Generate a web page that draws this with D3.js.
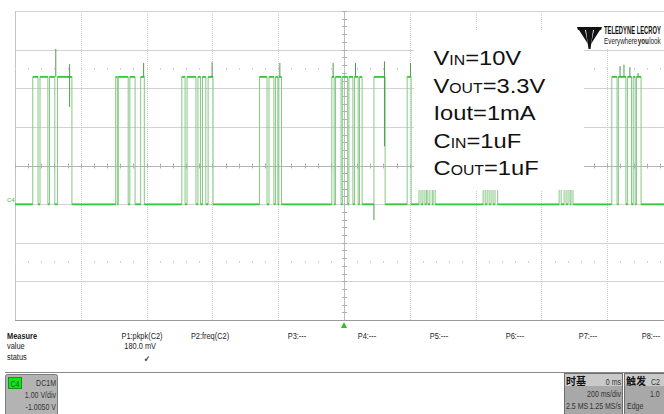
<!DOCTYPE html>
<html><head><meta charset="utf-8">
<script src="https://cdn.jsdelivr.net/npm/d3@7"></script>
<style>
html,body{margin:0;padding:0;background:#fff;}
svg{display:block;font-family:"Liberation Sans",Arial,sans-serif;}
</style></head>
<body>
<svg id="c" width="664" height="414"></svg>
<script>
// ---------- data ----------
const timeDomainMs = [-1000, 1000];          // 10 div x 200 ms/div
const voltDomain = [-2.995, 5.005];          // 8 div x 1 V/div, offset -1.005 V
const lowLevel = 0;
const highLevel = 3.3;
// pulse rising / falling times (ms)
const riseMs = [-946,-924,-895,-871, -694,-686,-651,-618, -493,-477,-444,-430,-413,
  -257,-228,-208,-198, -37,-26,-5,15,32,47,91,192, 228,240,251,261,271,
  423,435,447,459, 654,669,681,690, 814,834,862,879,889];
const fallMs = [-930,-900,-879,-827, -689,-656,-635,-607, -483,-450,-436,-420,-398,
  -234,-213,-201,-190, -30,-9,11,27,43,55,125,204, 234,246,255,268,277,
  429,441,453,467, 660,675,687,696, 830,857,874,885,903];
// glitches / ringing spikes
const spikeMs     = [-876,-834,-609,-401,-195,-33, 35,123,202,839,851,869,894, 91];
const spikeTop    = [4.02,3.63,3.66,3.68,3.66,3.66,3.66,3.70,3.66,3.58,3.62,3.55,3.40, 0];
const spikeBottom = [3.3, 2.52,3.3, 3.3, 3.3, 3.3, 3.3, 1.50,3.3, 3.3, 3.3, 3.3, 3.3, -0.41];

const annotationLines = [
  {big:"V", small:"IN", rest:"=10V"},
  {big:"V", small:"OUT", rest:"=3.3V"},
  {big:"Iout=1mA", small:"", rest:""},
  {big:"C", small:"IN", rest:"=1uF"},
  {big:"C", small:"OUT", rest:"=1uF"}
];
const logoLines = ["TELEDYNE LECROY"];
const sloganParts = ["Everywhere","you","look"];
const measureNames = ["P1:pkpk(C2)","P2:freq(C2)","P3:---","P4:---","P5:---","P6:---","P7:---","P8:---"];
const measureValues = ["180.0 mV","","","","","","",""];
const measureStatus = ["\u2714","","","","","","",""];
const channelInfo = ["DC1M","1.00 V/div","-1.0050 V"];
const timebaseInfo = ["\u65f6\u57fa","0 ms","200 ms/div","2.5 MS","1.25 MS/s"];
const triggerInfo = ["\u89e6\u53d1","C2","1.0","Edge"];

// ---------- layout ----------
const svg = d3.select("#c");
const L = 15, R = 673, T = 11, B = 320;
const x = d3.scaleLinear().domain(timeDomainMs).range([L, R]);
const y = d3.scaleLinear().domain(voltDomain).range([B, T]);
const vCenter = (voltDomain[0] + voltDomain[1]) / 2;

const grid = svg.append("g");
d3.range(0, 9).forEach(i => {
  const v = voltDomain[0] + i;
  grid.append("line").attr("x1", L).attr("x2", 664).attr("y1", Math.round(y(v)) + 0.5).attr("y2", Math.round(y(v)) + 0.5)
    .attr("stroke", i === 4 ? "#b4b4b4" : "#d2d2d2").attr("stroke-width", 1);
});
d3.range(0, 11).forEach(i => {
  const t = timeDomainMs[0] + i * 200;
  const xx = Math.round(x(t)) + 0.5;
  grid.append("line").attr("x1", xx).attr("x2", xx).attr("y1", T).attr("y2", B)
    .attr("stroke", i === 0 ? "#c4c4c4" : (i === 5 ? "#bcbcbc" : "#cfcfcf"))
    .attr("stroke-dasharray", (i === 0 || i === 5) ? null : "1,1");
});
d3.range(timeDomainMs[0], timeDomainMs[1] + 1, 40).forEach(t => {
  const xx = Math.round(x(t)) + 0.5;
  grid.append("line").attr("x1", xx).attr("x2", xx).attr("y1", y(vCenter) - 2).attr("y2", y(vCenter) + 3).attr("stroke", "#b0b0b0");
  [vCenter + 2.5, vCenter - 2.5].forEach(v => {
    grid.append("rect").attr("x", xx - 0.5).attr("y", y(v) - 1).attr("width", 1).attr("height", 2).attr("fill", "#d0d0d0");
  });
});
d3.range(voltDomain[0], voltDomain[1] + 0.01, 0.2).forEach(v => {
  const yy = Math.round(y(v)) + 0.5;
  grid.append("line").attr("x1", x(0) - 2).attr("x2", x(0) + 3).attr("y1", yy).attr("y2", yy).attr("stroke", "#b0b0b0");
});

// ---------- trace ----------
const pts = [[timeDomainMs[0], lowLevel]];
riseMs.forEach((r, i) => {
  pts.push([r, lowLevel], [r, highLevel], [fallMs[i], highLevel], [fallMs[i], lowLevel]);
});
pts.push([timeDomainMs[1], lowLevel]);
const line = d3.line().x(d => x(d[0])).y(d => y(d[1]));
svg.append("path").attr("d", line(pts)).attr("fill", "none").attr("stroke", "#86c886").attr("stroke-width", 1);
const flats = [];
for (let i = 0; i < pts.length - 1; i++) {
  if (pts[i][1] === pts[i + 1][1]) flats.push([pts[i], pts[i + 1]]);
}
svg.append("g").selectAll("line").data(flats).join("line")
  .attr("x1", d => x(d[0][0])).attr("x2", d => x(d[1][0]))
  .attr("y1", d => y(d[0][1])).attr("y2", d => y(d[1][1]))
  .attr("stroke", "#36c936").attr("stroke-width", 1.8);
svg.append("g").selectAll("line").data(spikeMs).join("line")
  .attr("x1", d => x(d)).attr("x2", d => x(d))
  .attr("y1", (d, i) => y(spikeTop[i])).attr("y2", (d, i) => y(spikeBottom[i]))
  .attr("stroke", "#4f9a4f").attr("stroke-width", 1);

svg.append("text").attr("x", 7).attr("y", y(lowLevel) - 2).text("C4")
  .attr("font-size", 6).attr("fill", "#3bbb3b");

// ---------- annotation box ----------
svg.append("rect").attr("x", 414).attr("y", 30).attr("width", 170).attr("height", 160).attr("fill", "#fff");
const ann = svg.append("g").attr("fill", "#111");
annotationLines.forEach((l, i) => {
  const t = ann.append("text").attr("transform", `translate(433.5,${65 + i * 27.5}) scale(1.13,1)`).attr("font-size", 21);
  t.append("tspan").text(l.big);
  if (l.small) t.append("tspan").attr("font-size", 14).text(l.small);
  if (l.rest) t.append("tspan").text(l.rest);
});

// ---------- logo ----------
svg.append("rect").attr("x", 575).attr("y", 12).attr("width", 89).attr("height", 36).attr("fill", "#fff");
const logo = svg.append("g");
logo.append("path").attr("d", "M577,27 L602,27 L601,30 L593,30 L590.5,49 L588.5,49 L586,30 L578,30 Z").attr("fill", "#111");
logo.append("path").attr("d", "M579,30 L585,30 L588,44 Z M600,30 L594,30 L591,44 Z").attr("fill", "#111");
const logoW = 57;
const lt = logo.append("text").attr("x", 0).attr("y", 0).text(logoLines[0])
  .attr("font-weight", "bold").attr("font-size", 10).attr("fill", "#111");
const ltw = lt.node().getComputedTextLength();
lt.attr("transform", `translate(604,34) scale(${logoW / ltw},1)`);
const sg = logo.append("g");
let off = 0;
sloganParts.forEach((p, i) => {
  const t = sg.append("text").attr("x", off).attr("y", 0).text(p)
    .attr("font-size", 9).attr("fill", "#222").attr("font-weight", i === 1 ? "bold" : "normal");
  off += t.node().getComputedTextLength() + 0.3;
});
sg.attr("transform", `translate(604,43.5) scale(${logoW / off},1)`);

svg.append("line").attr("x1", L).attr("x2", 664).attr("y1", B + 0.5).attr("y2", B + 0.5).attr("stroke", "#9a9a9a");
svg.append("path").attr("d", `M${x(0)},322 L${x(0) + 3},328 L${x(0) - 3},328 Z`).attr("fill", "#2fbf2f");

// ---------- measure panel ----------
const ui = svg.append("g").attr("font-size", 9.5).attr("fill", "#222");
function label(g, tx, ty, s, anchor, opts) {
  const t = g.append("text").attr("transform", `translate(${tx},${ty}) scale(0.78,1)`).attr("text-anchor", anchor || "start").text(s);
  if (opts) Object.entries(opts).forEach(([k, v]) => t.attr(k, v));
  return t;
}
label(ui, 7, 339, "Measure", "start", {"font-weight": "bold"});
label(ui, 7, 349, "value");
label(ui, 7, 360, "status");
const colX = [142, 210, 297, 367, 439, 515, 588, 651];
measureNames.forEach((n, i) => {
  label(ui, colX[i], 339, n, "middle");
  if (measureValues[i]) label(ui, colX[i] + 14, 349, measureValues[i], "end");
  if (measureStatus[i]) label(ui, colX[i] + 8, 362, measureStatus[i], "end", {"font-size": 9, "fill": "#444"});
});
svg.append("line").attr("x1", 5).attr("x2", 664).attr("y1", 372.5).attr("y2", 372.5).attr("stroke", "#8a8a8a");

// channel box
const cb = svg.append("g");
cb.append("rect").attr("x", 5.5).attr("y", 374.5).attr("width", 52).attr("height", 42).attr("rx", 2).attr("fill", "#b3b3b3").attr("stroke", "#7c7c7c");
cb.append("rect").attr("x", 8.5).attr("y", 377.5).attr("width", 13).attr("height", 11).attr("fill", "#19e019").attr("stroke", "#0a9a0a");
label(cb, 10.5, 386.5, "C4", "start", {"font-size": 9, "fill": "#063"});
label(cb, 56, 386, channelInfo[0], "end", {"font-size": 9, "fill": "#333"});
label(cb, 56, 398, channelInfo[1], "end", {"font-size": 9, "fill": "#333"});
label(cb, 56, 410, channelInfo[2], "end", {"font-size": 9, "fill": "#333"});

// timebase box
const tb = svg.append("g");
tb.append("rect").attr("x", 564.5).attr("y", 373.5).attr("width", 58).attr("height", 44).attr("fill", "#a8a8a8").attr("stroke", "#6e6e6e");
tb.append("rect").attr("x", 565).attr("y", 374).attr("width", 57).attr("height", 12).attr("fill", "#c9c9c9");
tb.append("text").attr("x", 566).attr("y", 384.5).text(timebaseInfo[0]).attr("font-family", "Noto Sans CJK SC").attr("font-weight", "bold").attr("font-size", 10).attr("fill", "#111");
label(tb, 621, 384.5, timebaseInfo[1], "end", {"font-size": 9, "fill": "#333"});
label(tb, 621, 397, timebaseInfo[2], "end", {"font-size": 9, "fill": "#333"});
label(tb, 566, 409, timebaseInfo[3], "start", {"font-size": 9, "fill": "#333"});
label(tb, 621, 409, timebaseInfo[4], "end", {"font-size": 9, "fill": "#333"});

// trigger box
const trg = svg.append("g");
trg.append("rect").attr("x", 624.5).attr("y", 373.5).attr("width", 50).attr("height", 44).attr("fill", "#a8a8a8").attr("stroke", "#6e6e6e");
trg.append("rect").attr("x", 625).attr("y", 374).attr("width", 49).attr("height", 12).attr("fill", "#c9c9c9");
trg.append("text").attr("x", 626).attr("y", 384.5).text(triggerInfo[0]).attr("font-family", "Noto Sans CJK SC").attr("font-weight", "bold").attr("font-size", 10).attr("fill", "#111");
label(trg, 651, 384.5, triggerInfo[1], "start", {"font-size": 9, "fill": "#333"});
label(trg, 650, 397, triggerInfo[2], "start", {"font-size": 9, "fill": "#333"});
label(trg, 627, 409, triggerInfo[3], "start", {"font-size": 9, "fill": "#333"});
</script>
</body></html>
